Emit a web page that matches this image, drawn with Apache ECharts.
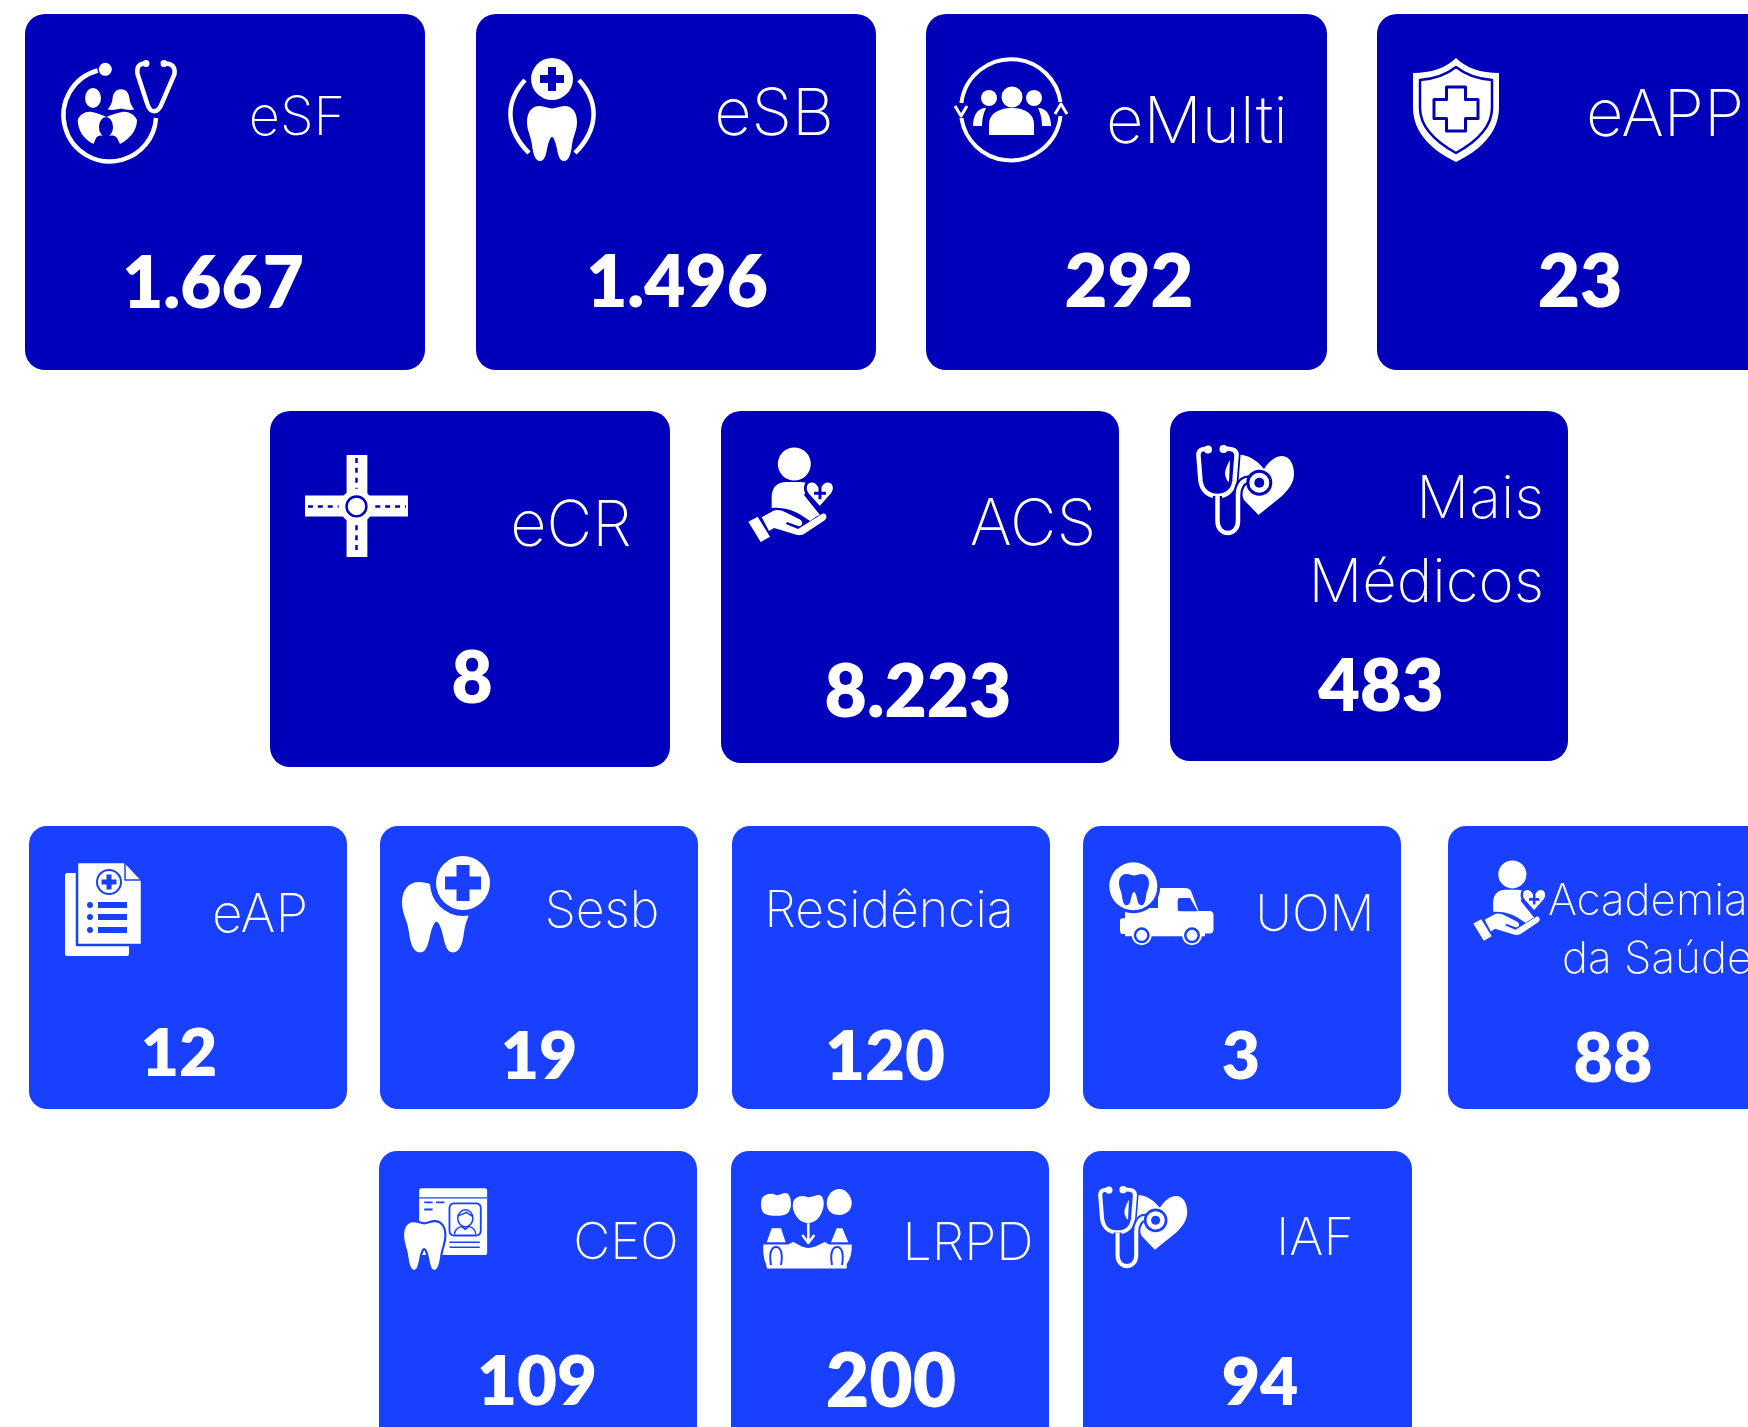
<!DOCTYPE html>
<html>
<head>
<meta charset="utf-8">
<title>Equipes</title>
<script src="https://cdn.jsdelivr.net/npm/echarts@6/dist/echarts.min.js"></script>
<style>
  html, body { margin: 0; padding: 0; background: #fff; overflow: hidden; }
  #chart { width: 1748px; height: 1427px; }
</style>
</head>
<body>
<div id="chart"></div>
<script>
// dados dos cartoes
const teamLines = [
  ["eSF"], ["eSB"], ["eMulti"], ["eAPP"],
  ["eCR"], ["ACS"], ["Mais", "Médicos"],
  ["eAP"], ["Sesb"], ["Residência"], ["UOM"], ["Academia", "da Saúde"],
  ["CEO"], ["LRPD"], ["IAF"]
]
const teamValues = [1667, 1496, 292, 23, 8, 8223, 483, 12, 19, 120, 3, 88, 109, 200, 94]
const teamIcons = ["family", "toothDoc", "people", "shield", "road", "care", "steth", "doc", "toothPlus", null, "van", "care", "ceo", "bridge", "steth"]

// layout: x, y, w, h, raio, cor
const DARK = "#0000bb"
const BRIGHT = "#1a40ff"
const cardBoxes = [
  [25, 14, 400, 356, 20, DARK], [476, 14, 400, 356, 20, DARK], [926, 14, 401, 356, 20, DARK], [1377, 14, 420, 356, 20, DARK],
  [270, 411, 400, 356, 20, DARK], [721, 411, 398, 352, 20, DARK], [1170, 411, 398, 350, 20, DARK],
  [29, 826, 318, 283, 18, BRIGHT], [380, 826, 318, 283, 18, BRIGHT], [732, 826, 318, 283, 18, BRIGHT], [1083, 826, 318, 283, 18, BRIGHT], [1448, 826, 340, 283, 18, BRIGHT],
  [379, 1151, 318, 320, 18, BRIGHT], [731, 1151, 318, 320, 18, BRIGHT], [1083, 1151, 329, 320, 18, BRIGHT]
]
// x, y do centro, corpo, alinhamento, uma entrada por linha
const nameSpots = [
  [[297, 119, 54, "center"]], [[774, 115, 65, "center"]], [[1197, 123, 65, "center"]], [[1665, 116, 65, "center"]],
  [[571, 527, 63, "center"]], [[1033, 526, 64, "center"]], [[1544, 500, 59, "right"], [1544, 584, 60, "right"]],
  [[260, 916, 53, "center"]], [[602, 912, 50, "center"]], [[889, 912, 50, "center"]], [[1315, 916, 50, "center"]],
  [[1548, 902, 44, "left"], [1562, 960, 44, "left"]],
  [[626, 1244, 51, "center"]], [[968, 1244, 52, "center"]], [[1315, 1239, 52, "center"]]
]
const valueSpots = [
  [213, 285, 71], [677, 284, 71], [1129, 283, 74], [1580, 283, 73],
  [472, 680, 71], [918, 693, 73], [1381, 688, 72],
  [179, 1055, 66], [539, 1058, 66], [885, 1058, 69], [1241, 1058, 66], [1613, 1060, 68],
  [537, 1383, 69], [891, 1383, 75], [1260, 1384, 66]
]
// x, y, escala
const iconSpots = [
  [62, 60, 1], [508, 58, 1], [955, 58, 1], [1413, 58, 1],
  [305, 455, 0.99], [748, 447, 1], [1196, 445, 1],
  [65, 862, 1], [402, 855, 1], null, [1110, 863, 1], [1473, 860, 0.85],
  [403, 1188, 1.01], [760, 1190, 1], [1098, 1186, 0.91]
]

const circ = (x, y, r) => `M${x - r} ${y}a${r} ${r} 0 1 0 ${2 * r} 0a${r} ${r} 0 1 0 ${-2 * r} 0Z`
const oval = (x, y, rx, ry) => `M${x - rx} ${y}a${rx} ${ry} 0 1 0 ${2 * rx} 0a${rx} ${ry} 0 1 0 ${-2 * rx} 0Z`
const plus = (x, y, len, arm) => {
  const a = arm / 2, l = len / 2
  return `M${x - a} ${y - l}H${x + a}V${y - a}H${x + l}V${y + a}H${x + a}V${y + l}H${x - a}V${y + a}H${x - l}V${y - a}H${x - a}Z`
}
const TOOTH = "M25 0C10 0 0 12 0 32C0 50 8 60 10 78C12 95 16 110 26 110C36 110 38 96 41 82C43 72 47 62 50 62C53 62 57 72 59 82C62 96 64 110 74 110C84 110 88 95 90 78C92 60 100 50 100 32C100 12 90 0 75 0C65 0 58 5 50 5C42 5 35 0 25 0Z"
const HEART = "M50 90L12 50C-4 32 4 8 24 8C36 8 44 16 50 26C56 16 64 8 76 8C96 8 104 32 88 50Z"
const STETH_TUBE = "M12 4.5C5 3 2 6 2.5 11L4.5 36C6 47 14 51 21.5 51C29 51 37 47 38.5 36L40.5 11C41 6 38 3 27.5 4"
const STETH_STEM = "M21.5 51V76C21.5 92 42 92 42 76V50C42 42 46 35 52 35H60"

const icons = {
  family: [
    { d: "M35.7 10.5A46.3 46.3 0 1 0 94 58", s: "w", lw: 4.5 },
    { d: circ(43.3, 9.3, 6.5), f: "w" },
    { d: "M84 3.5C77 3 74.5 7 75.5 14L85 43C88 54 96 54 100 43L112.5 14C113.5 7 110 3 102 3.5", s: "w", lw: 4.5 },
    { d: circ(84, 3.5, 3.5) + circ(102, 3.5, 3.5), f: "w" },
    { d: oval(31, 38, 8, 10), f: "w" },
    { d: "M59 29.3C53 29.3 51 34 50.5 39C50 43 48 47 45.7 49.5C50 50.5 55 49.5 59 48.5C63 49.5 68 50.5 72.3 49.5C70 47 68 43 67.5 39C67 34 65 29.3 59 29.3Z", f: "w" },
    { d: "M15.7 60C18 54 24 51 30 52C36 53 40 55 44.5 57C49 55 54 53 60 52C66 51 72 54 75 60C75 70 68 79 58 84L55 78C52 74 47 76 44.5 76C42 76 37 74 34 78L31.5 84C21 79 16 70 15.7 60Z", f: "w" },
    { d: oval(44, 67, 7, 10), f: "b" }
  ],
  toothDoc: [
    { d: circ(44, 21, 21), f: "w" },
    { d: plus(44, 21, 24, 8), f: "b" },
    { d: TOOTH, f: "w", x: 19, y: 48, sx: 0.5, sy: 0.5 },
    { d: "M17 22C-4 45 -2 72 21 95", s: "w", lw: 4.5 },
    { d: "M71 22C92 45 90 72 67 95", s: "w", lw: 4.5 }
  ],
  people: [
    { d: "M6.4 45A50 50 0 0 1 105.5 44", s: "w", lw: 4 },
    { d: "M105.5 58A50 50 0 0 1 6.4 60", s: "w", lw: 4 },
    { d: "M0 48L6 58L12 48", s: "w", lw: 3 },
    { d: "M100 56L106 46L112 56", s: "w", lw: 3 },
    { d: circ(57, 39, 10.5), f: "w" },
    { d: "M34 77V66C34 56 44 50 57 50C70 50 79 56 79 66V77Z", f: "w" },
    { d: circ(34, 40, 8), f: "w" },
    { d: circ(79, 40, 8), f: "w" },
    { d: "M18 68C18 58 22 50 31 50C28 56 27 62 27 68Z", f: "w" },
    { d: "M96 68C96 58 92 50 83 50C86 56 87 62 87 68Z", f: "w" }
  ],
  shield: [
    { d: "M43 0C33 10 18 15 0 15V50C0 75 20 93 43 104C66 93 86 75 86 50V15C68 15 53 10 43 0Z", f: "w" },
    { d: "M43 9C33 17 20 21 7 22V50C7 70 25 85 43 95C61 85 79 70 79 50V22C66 21 53 17 43 9Z", s: "b", lw: 2.5 },
    { d: plus(43, 51, 44, 19), s: "b", lw: 3 }
  ],
  road: [
    { d: "M0 41H104V62H0Z", f: "w" },
    { d: "M42 0H63V103H42Z", f: "w" },
    { d: circ(52, 52, 17), f: "w" },
    { d: circ(52, 52, 10), s: "b", lw: 2.5 },
    { d: "M3 52H34M71 52H102", s: "b", lw: 2.5, dash: [5, 5] },
    { d: "M52 3V34M52 71V100", s: "b", lw: 2.5, dash: [5, 5] }
  ],
  care: [
    { d: circ(46.3, 17, 16.5), f: "w" },
    { d: "M23.7 61V50C23.7 40 30 35 38 35H52C56 35 60 36 62 38L56 48L72 68C70 68 65 72 62 74L56 70C48 64 36 60 23.7 61Z", f: "w" },
    { d: HEART, f: "w", s: "b", lw: 9, x: 56.3, y: 31.3, sx: 0.31, sy: 0.33 },
    { d: plus(72, 46.3, 12, 3), f: "b" },
    { d: "M13.7 70.3L25 64C29 62 33 63 37 65L52 72.5C56 75 54 80 50 79L39 75L38 77L50 82L74 67C78 65 80 70 77 73L56 87C52 89 49 88 46 87L26 81L21 84Z", f: "w" },
    { d: "M0.3 74.7L9.7 69.7L22 89.7L12.7 95Z", f: "w" }
  ],
  steth: [
    { d: "M41 10C50 9 60 14 68 24C74 15 80 11 86 11C94 11 98 20 98 29C98 38 92 45 86 51L62.5 70L48 55L45 48L40 42Z", f: "w" },
    { d: "M34 15C31 20 29 26 29 28C29 32 31 36 33 37Z", f: "w" },
    { d: STETH_TUBE, s: "b", lw: 8 },
    { d: STETH_TUBE, s: "w", lw: 4.5 },
    { d: circ(12, 4.5, 4) + circ(27.5, 4, 4), f: "w" },
    { d: STETH_STEM, s: "b", lw: 9 },
    { d: STETH_STEM, s: "w", lw: 4.5 },
    { d: circ(63.3, 37.7, 13), f: "b" },
    { d: circ(63.3, 37.7, 10), f: "w" },
    { d: circ(63.3, 37.7, 5), f: "b" }
  ],
  doc: [
    { d: "M0 13C0 12 1 11 2 11H64V92C64 93 63 94 62 94H2C1 94 0 93 0 92Z", f: "w" },
    { d: "M12 0H60L77 18V83H12Z", f: "w", s: "b", lw: 2.5 },
    { d: "M60 0V18H77", s: "b", lw: 1.5 },
    { d: circ(44, 20, 12), s: "b", lw: 2 },
    { d: plus(44, 20, 15, 5), f: "b" },
    { d: circ(25, 43, 3) + circ(25, 55, 3) + circ(25, 68, 3), f: "b" },
    { d: "M33 40H62V46H33ZM33 52H62V58H33ZM33 65H62V71H33Z", f: "b" }
  ],
  toothPlus: [
    { d: TOOTH, f: "w", x: 0, y: 27, sx: 0.69, sy: 0.64 },
    { d: circ(61, 28, 33), f: "b" },
    { d: circ(61, 28, 27), f: "w" },
    { d: plus(61, 28, 36, 13), f: "b" }
  ],
  van: [
    { d: "M48 25H75C78 25 80 26 81 28L88.5 48H100C102 48 103.5 50 103.5 52V66C103.5 69 102 70.5 100 70.5H95V73.3H15V71H12C10.5 71 10 69 10 66V58C10 56 11 55.5 12 55.5L15 55V45H48Z", f: "w" },
    { d: "M70 35H80L87.7 48.3H70C68 48.3 67.7 47 67.7 46V37C67.7 36 68.5 35 70 35Z", f: "b" },
    { d: circ(23.3, 23.3, 27), f: "b" },
    { d: circ(23.3, 23.3, 24), f: "w" },
    { d: TOOTH, f: "b", x: 9, y: 11, sx: 0.3, sy: 0.285 },
    { d: circ(31.7, 72.3, 10) + circ(82, 72.3, 10), f: "w" },
    { d: circ(31.7, 72.3, 8) + circ(82, 72.3, 8), f: "b" },
    { d: circ(31.7, 72.3, 5.5) + circ(82, 72.3, 5.5), f: "w" }
  ],
  ceo: [
    { d: "M19 0.3H81C82.5 0.3 83.3 1 83.3 3V64C83.3 65.5 82.5 66.3 81 66.3H19C17 66.3 16 65.5 16 64V3C16 1 17 0.3 19 0.3Z", f: "w" },
    { d: "M16 9.7H83.3", s: "b", lw: 1.2 },
    { d: "M21 14.3H29.3M32.7 14.3H41M21 21.3H29.3", s: "b", lw: 1.8 },
    { d: "M51 15.3H72C75 15.3 77 17 77 20V42C77 45 75 47 72 47H51C48 47 46 45 46 42V20C46 17 48 15.3 51 15.3Z", s: "b", lw: 1.8 },
    { d: oval(61.7, 30, 7.5, 8.5), s: "b", lw: 1.5 },
    { d: "M54 28C56 26 60 26 63 24C65 26 67 27 69 28", s: "b", lw: 1.5 },
    { d: "M51 46C51 41 55 39 58 38L61.7 41L65 38C69 39 72 41 72 46", s: "b", lw: 1.5 },
    { d: "M46 53.7H76M46 58.7H76", s: "b", lw: 1.6 },
    { d: TOOTH, f: "w", s: "b", lw: 5, x: 0, y: 32.7, sx: 0.42, sy: 0.45 }
  ],
  bridge: [
    { d: "M2 8C6 3 12 3 16 5C19 6 22 3 26 3C30 4 31 10 31 14C31 20 28 24 24 25C18 26.5 10 26 5 24C1 22 0 14 2 8Z", f: "w" },
    { d: "M34 10C37 6 43 5 47 7C51 8 55 5 60 5C64 7 64.5 14 63 19C61 26 56 33 48 33C40 33 35 26 33 19C32.5 15 33 12 34 10Z", f: "w" },
    { d: "M78 -1C86 -2 91 6 91.7 12C92 19 88 24 80 25C73 25 67 22 66.7 14C66.5 7 71 0 78 -1Z", f: "w" },
    { d: "M48.3 33.3V52.5M42.3 45L48.3 53L54.3 45", s: "w", lw: 2.5 },
    { d: "M11.7 38.3H21L25.7 52.3H6.7ZM76.7 38.3H82.3L88.3 52.3H71Z", f: "w" },
    { d: "M3.3 54.5H28L33 52C38 54 43 58 48 58C54 58 60 54 65 52L69 54.5H91.7C92 63 90 70 86.7 74V78.5H7L6 74C4 70 3 63 3.3 54.5Z", f: "w" },
    { d: "M11 75C9 64 11 57 16 57C21 57 23 64 21 75M72 75C70 64 72 57 77 57C82 57 84 64 82 75", s: "b", lw: 2 }
  ]
}

const formatValue = v => String(v).replace(/\B(?=(\d{3})+$)/g, ".")

const NAME_FONT = "Inter"
const VALUE_FONT = "Lato"

const renderCard = (params) => {
  const i = params.dataIndex
  const [x, y, w, h, r, color] = cardBoxes[i]
  const kids = [{
    type: "rect",
    shape: { x, y, width: w, height: h, r },
    style: { fill: color }
  }]

  const iconName = teamIcons[i]
  if (iconName) {
    const [ix, iy, scale] = iconSpots[i]
    kids.push({
      type: "group",
      x: ix,
      y: iy,
      scaleX: scale,
      scaleY: scale,
      children: icons[iconName].map(p => ({
        type: "path",
        x: p.x || 0,
        y: p.y || 0,
        scaleX: p.sx || 1,
        scaleY: p.sy || 1,
        shape: { pathData: p.d },
        style: {
          fill: p.f ? (p.f === "w" ? "#fff" : color) : "none",
          stroke: p.s ? (p.s === "w" ? "#fff" : color) : "none",
          lineWidth: p.lw || 0,
          lineDash: p.dash || null,
          lineCap: "butt",
          lineJoin: "round"
        }
      }))
    })
  }

  teamLines[i].forEach((line, k) => {
    const [nx, ny, size, align] = nameSpots[i][k]
    kids.push({
      type: "text",
      style: {
        text: line,
        x: nx,
        y: ny,
        fill: "#fff",
        font: `200 ${size}px ${NAME_FONT}`,
        align,
        verticalAlign: "middle"
      }
    })
  })

  const [vx, vy, vSize] = valueSpots[i]
  kids.push({
    type: "text",
    style: {
      text: formatValue(teamValues[i]),
      x: vx,
      y: vy,
      fill: "#fff",
      font: `800 ${vSize}px ${VALUE_FONT}`,
      align: "center",
      verticalAlign: "middle"
    }
  })

  return { type: "group", children: kids }
}

const chart = echarts.init(document.getElementById("chart"), null, { renderer: "canvas" })
chart.setOption({
  animation: false,
  backgroundColor: "#fff",
  series: [{
    type: "custom",
    coordinateSystem: "none",
    silent: true,
    renderItem: renderCard,
    data: teamValues
  }]
})
</script>
</body>
</html>
